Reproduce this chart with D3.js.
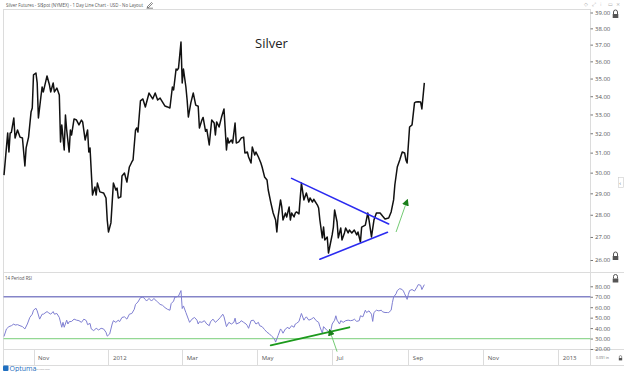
<!DOCTYPE html>
<html><head><meta charset="utf-8">
<script src="https://cdn.jsdelivr.net/npm/d3@7"></script>
<style>body{margin:0;background:#fff;overflow:hidden}svg{display:block;font-family:'Open Sans',sans-serif}</style>
</head><body><svg id="c" width="624" height="372"></svg>
<script>
// ---------- DATA ----------
const priceDates = ["2011-10-08","2011-10-11","2011-10-12","2011-10-13","2011-10-14","2011-10-16","2011-10-17","2011-10-19","2011-10-21","2011-10-23","2011-10-25","2011-10-26","2011-10-28","2011-10-30","2011-10-31",
"2011-11-01","2011-11-03","2011-11-04","2011-11-05","2011-11-07","2011-11-08","2011-11-09","2011-11-12","2011-11-14","2011-11-15","2011-11-17","2011-11-18","2011-11-20","2011-11-22","2011-11-23","2011-11-24","2011-11-26","2011-11-27","2011-11-28","2011-11-30",
"2011-12-01","2011-12-02","2011-12-04","2011-12-06","2011-12-08","2011-12-10","2011-12-11","2011-12-13","2011-12-15","2011-12-16","2011-12-17","2011-12-19","2011-12-21","2011-12-22","2011-12-23","2011-12-25","2011-12-28","2011-12-30","2011-12-31",
"2012-01-01","2012-01-03","2012-01-05","2012-01-07","2012-01-08","2012-01-09","2012-01-11","2012-01-12","2012-01-14","2012-01-16","2012-01-18","2012-01-20","2012-01-21","2012-01-23","2012-01-24","2012-01-25","2012-01-27","2012-01-29","2012-01-31",
"2012-02-03","2012-02-06","2012-02-08","2012-02-10","2012-02-12","2012-02-14","2012-02-16","2012-02-18","2012-02-20","2012-02-22","2012-02-23","2012-02-25","2012-02-26","2012-02-27","2012-02-29",
"2012-03-01","2012-03-02","2012-03-04","2012-03-05","2012-03-06","2012-03-08","2012-03-10","2012-03-12","2012-03-14","2012-03-15","2012-03-17","2012-03-18","2012-03-20","2012-03-21","2012-03-23","2012-03-25","2012-03-27","2012-03-28","2012-03-29","2012-03-31",
"2012-04-02","2012-04-04","2012-04-06","2012-04-07","2012-04-08","2012-04-10","2012-04-11","2012-04-13","2012-04-14","2012-04-16","2012-04-18","2012-04-20","2012-04-21","2012-04-23","2012-04-24","2012-04-26","2012-04-27","2012-04-29","2012-04-30",
"2012-05-02","2012-05-04","2012-05-05","2012-05-07","2012-05-09","2012-05-10","2012-05-12","2012-05-14","2012-05-16","2012-05-17","2012-05-18","2012-05-20","2012-05-21","2012-05-22","2012-05-24","2012-05-25","2012-05-27","2012-05-28","2012-05-29","2012-05-31",
"2012-06-01","2012-06-02","2012-06-04","2012-06-05","2012-06-06","2012-06-08","2012-06-10","2012-06-12","2012-06-13","2012-06-15","2012-06-16","2012-06-19","2012-06-20","2012-06-21","2012-06-23","2012-06-24","2012-06-25","2012-06-27","2012-06-28","2012-06-29",
"2012-07-01","2012-07-02","2012-07-03","2012-07-05","2012-07-06","2012-07-08","2012-07-09","2012-07-11","2012-07-12","2012-07-14","2012-07-15","2012-07-17","2012-07-19","2012-07-21","2012-07-22","2012-07-24","2012-07-25","2012-07-28","2012-07-30","2012-07-31",
"2012-08-02","2012-08-04","2012-08-06","2012-08-09","2012-08-11","2012-08-13","2012-08-16","2012-08-18","2012-08-20","2012-08-21","2012-08-23","2012-08-25","2012-08-27","2012-08-29","2012-08-30","2012-08-31",
"2012-09-02","2012-09-04","2012-09-06","2012-09-07","2012-09-09","2012-09-11","2012-09-12","2012-09-14"];
const priceValues = [29.88,32.01,31.03,32.01,32.05,32.81,31.75,32.17,31.80,31.75,30.33,31.24,31.80,33.13,33.35,
35.21,35.32,34.75,32.81,33.96,34.52,34.24,35.15,34.63,34.24,34.75,34.24,34.46,34.07,31.55,32.44,31.14,32.97,32.17,31.03,
32.17,31.91,32.76,32.70,32.44,32.70,32.60,31.65,32.17,31.03,31.24,28.92,29.30,28.92,29.49,29.07,29.02,28.78,27.76,
27.22,27.63,29.49,29.16,29.25,28.78,28.83,29.84,29.98,29.54,30.28,30.53,30.63,32.17,32.28,32.07,33.74,33.85,33.41,
34.18,33.85,34.18,33.79,33.90,33.68,33.46,33.41,33.35,34.52,34.35,35.55,35.49,35.61,37.16,
34.75,35.55,34.52,33.79,32.86,33.63,34.18,33.51,33.45,32.28,32.70,32.84,32.10,32.20,31.39,32.70,32.54,31.91,32.60,32.33,
32.86,33.30,31.14,31.75,31.49,31.65,31.49,32.54,31.49,31.55,31.75,31.80,30.98,31.03,30.78,30.48,31.29,30.88,31.03,
30.78,30.48,30.28,29.79,29.64,29.16,28.59,28.08,27.76,27.22,27.90,28.69,28.36,27.76,28.08,27.90,28.36,27.76,28.08,27.90,
28.08,28.13,28.04,28.78,29.49,28.69,29.02,28.59,28.78,28.59,28.72,28.45,28.31,27.76,26.96,27.44,26.87,27.00,26.30,26.56,
27.09,27.44,28.22,27.67,26.96,27.40,26.87,27.18,27.40,27.18,27.31,27.18,27.31,27.09,27.22,26.78,27.44,27.53,28.08,27.76,
27.00,27.76,28.08,28.08,27.94,27.81,27.85,28.13,28.69,29.40,30.28,30.63,31.03,30.98,30.63,30.48,
32.33,32.44,33.63,33.68,33.70,33.68,33.30,34.75];

const rsiDates = ["2011-10-08","2011-10-10","2011-10-12","2011-10-14","2011-10-16","2011-10-17","2011-10-19","2011-10-21","2011-10-23","2011-10-25","2011-10-27","2011-10-29","2011-10-31",
"2011-11-01","2011-11-03","2011-11-04","2011-11-06","2011-11-08","2011-11-09","2011-11-12","2011-11-13","2011-11-15","2011-11-17","2011-11-18","2011-11-20","2011-11-22","2011-11-24","2011-11-25","2011-11-26","2011-11-28","2011-11-29","2011-11-30",
"2011-12-02","2011-12-04","2011-12-06","2011-12-08","2011-12-10","2011-12-12","2011-12-14","2011-12-15","2011-12-17","2011-12-18","2011-12-20","2011-12-22","2011-12-24","2011-12-26","2011-12-28","2011-12-30","2011-12-31",
"2012-01-02","2012-01-04","2012-01-05","2012-01-07","2012-01-09","2012-01-10","2012-01-12","2012-01-14","2012-01-16","2012-01-18","2012-01-20","2012-01-22","2012-01-23","2012-01-25","2012-01-27","2012-01-29","2012-01-31",
"2012-02-01","2012-02-03","2012-02-05","2012-02-07","2012-02-09","2012-02-10","2012-02-12","2012-02-14","2012-02-16","2012-02-18","2012-02-20","2012-02-21","2012-02-23","2012-02-24","2012-02-25","2012-02-27","2012-02-29",
"2012-03-01","2012-03-02","2012-03-04","2012-03-06","2012-03-07","2012-03-09","2012-03-11","2012-03-13","2012-03-14","2012-03-15","2012-03-17","2012-03-19","2012-03-21","2012-03-23","2012-03-24","2012-03-26","2012-03-28","2012-03-30",
"2012-04-01","2012-04-03","2012-04-04","2012-04-06","2012-04-08","2012-04-10","2012-04-12","2012-04-13","2012-04-14","2012-04-17","2012-04-18","2012-04-20","2012-04-22","2012-04-23","2012-04-24","2012-04-26","2012-04-28","2012-04-30",
"2012-05-02","2012-05-03","2012-05-05","2012-05-07","2012-05-09","2012-05-11","2012-05-13","2012-05-15","2012-05-16","2012-05-18","2012-05-20","2012-05-21","2012-05-22","2012-05-24","2012-05-26","2012-05-27","2012-05-29","2012-05-31",
"2012-06-01","2012-06-02","2012-06-04","2012-06-05","2012-06-06","2012-06-08","2012-06-09","2012-06-10","2012-06-12","2012-06-14","2012-06-16","2012-06-18","2012-06-20","2012-06-21","2012-06-23","2012-06-24","2012-06-25","2012-06-27","2012-06-29","2012-06-30",
"2012-07-01","2012-07-03","2012-07-04","2012-07-05","2012-07-07","2012-07-08","2012-07-10","2012-07-12","2012-07-14","2012-07-16","2012-07-18","2012-07-19","2012-07-21","2012-07-23","2012-07-24","2012-07-26","2012-07-28","2012-07-29","2012-07-31",
"2012-08-02","2012-08-03","2012-08-04","2012-08-06","2012-08-08","2012-08-10","2012-08-11","2012-08-13","2012-08-15","2012-08-16","2012-08-18","2012-08-19","2012-08-20","2012-08-22","2012-08-23","2012-08-25","2012-08-27","2012-08-28","2012-08-29","2012-08-31",
"2012-09-01","2012-09-02","2012-09-04","2012-09-06","2012-09-08","2012-09-09","2012-09-11","2012-09-12","2012-09-14"];
const rsiValues = [32.0,39.2,41.4,42.3,43.9,42.9,43.3,42.3,41.4,39.2,43.9,50.2,53.3,
57.1,59.0,56.5,48.6,53.3,53.3,55.8,54.9,53.3,55.8,53.3,54.0,50.2,40.8,45.5,40.8,47.6,43.9,46.1,
46.4,48.6,47.6,47.1,45.5,48.6,47.1,43.3,44.5,39.2,37.6,39.8,38.2,39.8,39.2,36.0,32.3,
34.4,43.9,47.1,45.5,47.6,46.1,50.2,50.8,48.6,53.3,54.0,58.0,62.7,65.0,69.1,69.7,67.5,
65.9,68.4,65.9,68.4,65.9,65.0,62.7,61.8,59.6,58.0,57.1,63.4,65.9,69.7,69.7,70.7,75.9,
58.7,61.2,54.9,48.6,45.5,48.6,50.2,47.6,43.9,46.1,45.5,47.1,43.9,42.3,46.0,48.6,45.5,47.6,
50.2,53.3,50.8,41.4,45.5,43.9,45.5,49.5,43.9,45.5,47.1,45.5,43.9,42.3,39.8,47.1,47.6,43.9,
45.5,42.3,41.4,38.6,36.0,34.4,32.0,29.7,26.6,32.9,39.2,37.6,35.1,39.2,40.8,39.2,42.3,40.8,
43.9,44.5,46.4,50.2,54.0,47.6,49.5,50.8,47.6,48.6,50.2,47.1,45.5,41.4,35.1,41.4,40.1,37.6,36.0,38.2,
43.9,47.6,51.8,47.6,43.9,47.1,45.5,47.1,47.6,47.1,47.6,48.6,46.4,47.1,51.8,50.8,57.1,54.9,56.5,
53.3,46.4,54.9,57.1,56.5,57.1,55.6,54.9,54.9,54.9,57.1,64.3,69.7,72.8,75.9,77.8,76.9,75.4,72.8,67.5,
72.2,75.9,76.9,75.4,79.2,81.6,81.0,76.9,81.6];

const priceTicks = [26,27,28,29,30,31,32,33,34,35,36,37,38,39];
const rsiTicks = [20,30,40,50,60,70,80];
const rsiLevels = [70,30];
const monthTickDates = ["2011-11-01","2012-01-01","2012-03-01","2012-05-01","2012-07-01","2012-09-01","2012-11-01","2013-01-01"];
const monthTickLabels = ["Nov","2012","Mar","May","Jul","Sep","Nov","2013"];
// annotations (date, value)
const wedgeUpperDates = ["2012-05-29","2012-08-16"], wedgeUpperValues = [29.72,27.58];
const wedgeLowerDates = ["2012-06-21","2012-08-15"], wedgeLowerValues = [26.03,27.21];
const priceArrowDates = ["2012-08-22","2012-08-30"], priceArrowValues = [27.22,28.50];
const rsiTrendDates = ["2012-05-12","2012-07-15"], rsiTrendValues = [23.5,40.8];
const rsiArrowDates = ["2012-07-05","2012-06-30"], rsiArrowValues = [17.5,34.4];

// ---------- SCALES ----------
const parse = d3.timeParse("%Y-%m-%d");
const x = d3.scaleTime().domain([parse("2011-11-01"), parse("2013-01-01")]).range([33.5, 558.3]);
const yP = d3.scaleLog().domain([26, 39]).range([260, 12.5]);
const yR = d3.scaleLinear().domain([20, 80]).range([349, 286.3]);

const svg = d3.select("#c");
const frame = "#dcdcdc";

// frame lines
const fl = svg.append("g").attr("stroke", frame).attr("stroke-width", 1).attr("shape-rendering","crispEdges");
fl.append("line").attr("x1",3).attr("x2",591).attr("y1",9.5).attr("y2",9.5);
fl.append("line").attr("x1",3.5).attr("x2",3.5).attr("y1",9).attr("y2",366);
fl.append("line").attr("x1",590.5).attr("x2",590.5).attr("y1",9).attr("y2",366);
fl.append("line").attr("x1",3).attr("x2",624).attr("y1",272.5).attr("y2",272.5);
fl.append("line").attr("x1",3).attr("x2",624).attr("y1",349.5).attr("y2",349.5);
fl.append("line").attr("x1",3).attr("x2",624).attr("y1",365.5).attr("y2",365.5);

// header
svg.append("text").attr("x",6).attr("y",7.2).attr("font-size",4.6).attr("fill","#555")
  .attr("textLength",137).attr("lengthAdjust","spacingAndGlyphs")
  .text("Silver Futures - SI$pot (NYMEX) - 1 Day Line Chart - USD - No Layout");
svg.append("path").attr("d","M147,7 L151.5,2.5 L152.5,3.5 L148,8 Z M146.5,8.2 L153,8.2").attr("fill","none").attr("stroke","#555").attr("stroke-width",0.7);
// top right icons
svg.append("g").attr("font-family","DejaVu Sans").attr("font-size",5).attr("fill","#aaa")
  .selectAll("text").data(["◇","⤢","⁝","▭","×"]).join("text")
  .attr("x",(d,i)=>584+i*8).attr("y",6).text(d=>d);

// price axis
const ay = svg.append("g").attr("transform","translate(590.5,0)")
  .call(d3.axisRight(yP).tickValues(priceTicks).tickFormat(d3.format(".2f")).tickSize(2.5).tickPadding(2));
ay.select(".domain").remove();
ay.selectAll("line").attr("stroke","#777");
ay.selectAll("text").attr("font-size",6).attr("fill","#555").attr("font-family","'Open Sans',sans-serif");

// rsi axis
const ar = svg.append("g").attr("transform","translate(590.5,0)")
  .call(d3.axisRight(yR).tickValues(rsiTicks).tickFormat(d3.format(".2f")).tickSize(2.5).tickPadding(2));
ar.select(".domain").remove();
ar.selectAll("line").attr("stroke","#777");
ar.selectAll("text").attr("font-size",6).attr("fill","#555").attr("font-family","'Open Sans',sans-serif");

// x axis strip
const tickG = svg.append("g");
tickG.selectAll("line").data(monthTickDates).join("line")
  .attr("x1",d=>Math.round(x(parse(d)))+0.5).attr("x2",d=>Math.round(x(parse(d)))+0.5)
  .attr("y1",349.5).attr("y2",365.5).attr("stroke",frame);
tickG.selectAll("text").data(monthTickDates).join("text")
  .attr("x",d=>x(parse(d))+4.5).attr("y",359.5).attr("font-size",6).attr("fill","#555")
  .text((d,i)=>monthTickLabels[i]);
svg.append("text").attr("x",596).attr("y",359).attr("font-size",3.5).attr("fill","#666").text("0.091 in");

// lock icons
function lock(cx, cy, s){
  const g = svg.append("g").attr("transform",`translate(${cx},${cy}) scale(${s})`);
  g.append("path").attr("d","M-2,0 V-2 A2,2 0 0 1 2,-2 V0").attr("fill","none").attr("stroke","#555").attr("stroke-width",1);
  g.append("rect").attr("x",-2.8).attr("y",0).attr("width",5.6).attr("height",4).attr("fill","#555");
}
lock(615.5,14,1); lock(615.5,278.5,1); lock(615.5,256,1); lock(620.5,358,0.6);
// side tab
svg.append("rect").attr("x",618.5).attr("y",177.5).attr("width",5).attr("height",10).attr("fill","#fff").attr("stroke","#ccc").attr("stroke-width",0.6);
svg.append("text").attr("x",619.3).attr("y",184.5).attr("font-size",6).attr("fill","#666").text("‹");

// title
svg.append("text").attr("x",255).attr("y",48).attr("font-size",13).attr("fill","#222")
  .attr("font-family","'Open Sans',sans-serif").text("Silver");
svg.append("text").attr("x",5).attr("y",280).attr("font-size",4.4).attr("fill","#555").text("14 Period RSI");

// RSI levels
svg.append("line").attr("x1",3.5).attr("x2",590.5).attr("y1",yR(rsiLevels[0])).attr("y2",yR(rsiLevels[0]))
  .attr("stroke","#8585c8").attr("stroke-width",1.3);
svg.append("line").attr("x1",3.5).attr("x2",590.5).attr("y1",yR(rsiLevels[1])).attr("y2",yR(rsiLevels[1]))
  .attr("stroke","#94d894").attr("stroke-width",1.3);

// RSI line
const rsiData = rsiDates.map((d,i)=>({d:parse(d), v:rsiValues[i]}));
svg.append("path").datum(rsiData)
  .attr("d", d3.line().x(p=>x(p.d)).y(p=>yR(p.v)))
  .attr("fill","none").attr("stroke","#7f7fd2").attr("stroke-width",1).attr("stroke-linejoin","round");

// price line
const priceData = priceDates.map((d,i)=>({d:parse(d), v:priceValues[i]}));
svg.append("path").datum(priceData)
  .attr("d", d3.line().x(p=>x(p.d)).y(p=>yP(p.v)))
  .attr("fill","none").attr("stroke","#111").attr("stroke-width",1.5).attr("stroke-linejoin","round");

// wedge lines
function seg(dates, vals, ys, color, w){
  return svg.append("line")
    .attr("x1",x(parse(dates[0]))).attr("y1",ys(vals[0]))
    .attr("x2",x(parse(dates[1]))).attr("y2",ys(vals[1]))
    .attr("stroke",color).attr("stroke-width",w).attr("stroke-linecap","round");
}
seg(wedgeUpperDates, wedgeUpperValues, yP, "#2b2bf0", 1.6);
seg(wedgeLowerDates, wedgeLowerValues, yP, "#2b2bf0", 1.6);
seg(rsiTrendDates, rsiTrendValues, yR, "#1c9a1c", 1.8);

// arrows
const defs = svg.append("defs");
defs.append("marker").attr("id","ah").attr("viewBox","0 0 10 10").attr("refX",2).attr("refY",5)
  .attr("markerWidth",7).attr("markerHeight",7).attr("markerUnits","userSpaceOnUse").attr("orient","auto")
  .append("path").attr("d","M0,0 L10,5 L0,10 Z").attr("fill","#1a7f1a");
seg(priceArrowDates, priceArrowValues, yP, "#63c463", 0.9).attr("marker-end","url(#ah)").attr("stroke-linecap","butt");
seg(rsiArrowDates, rsiArrowValues, yR, "#63c463", 0.9).attr("marker-end","url(#ah)").attr("stroke-linecap","butt");

// logo
svg.append("rect").attr("x",3).attr("y",365.5).attr("width",5.5).attr("height",5.5).attr("rx",1).attr("fill","#1f6fc0");
svg.append("text").attr("x",9.5).attr("y",370.8).attr("font-size",7).attr("fill","#1f6fc0").text("Optuma");
svg.append("text").attr("x",35).attr("y",369.5).attr("font-size",2.5).attr("fill","#999").text("optuma.com");
</script></body></html>
